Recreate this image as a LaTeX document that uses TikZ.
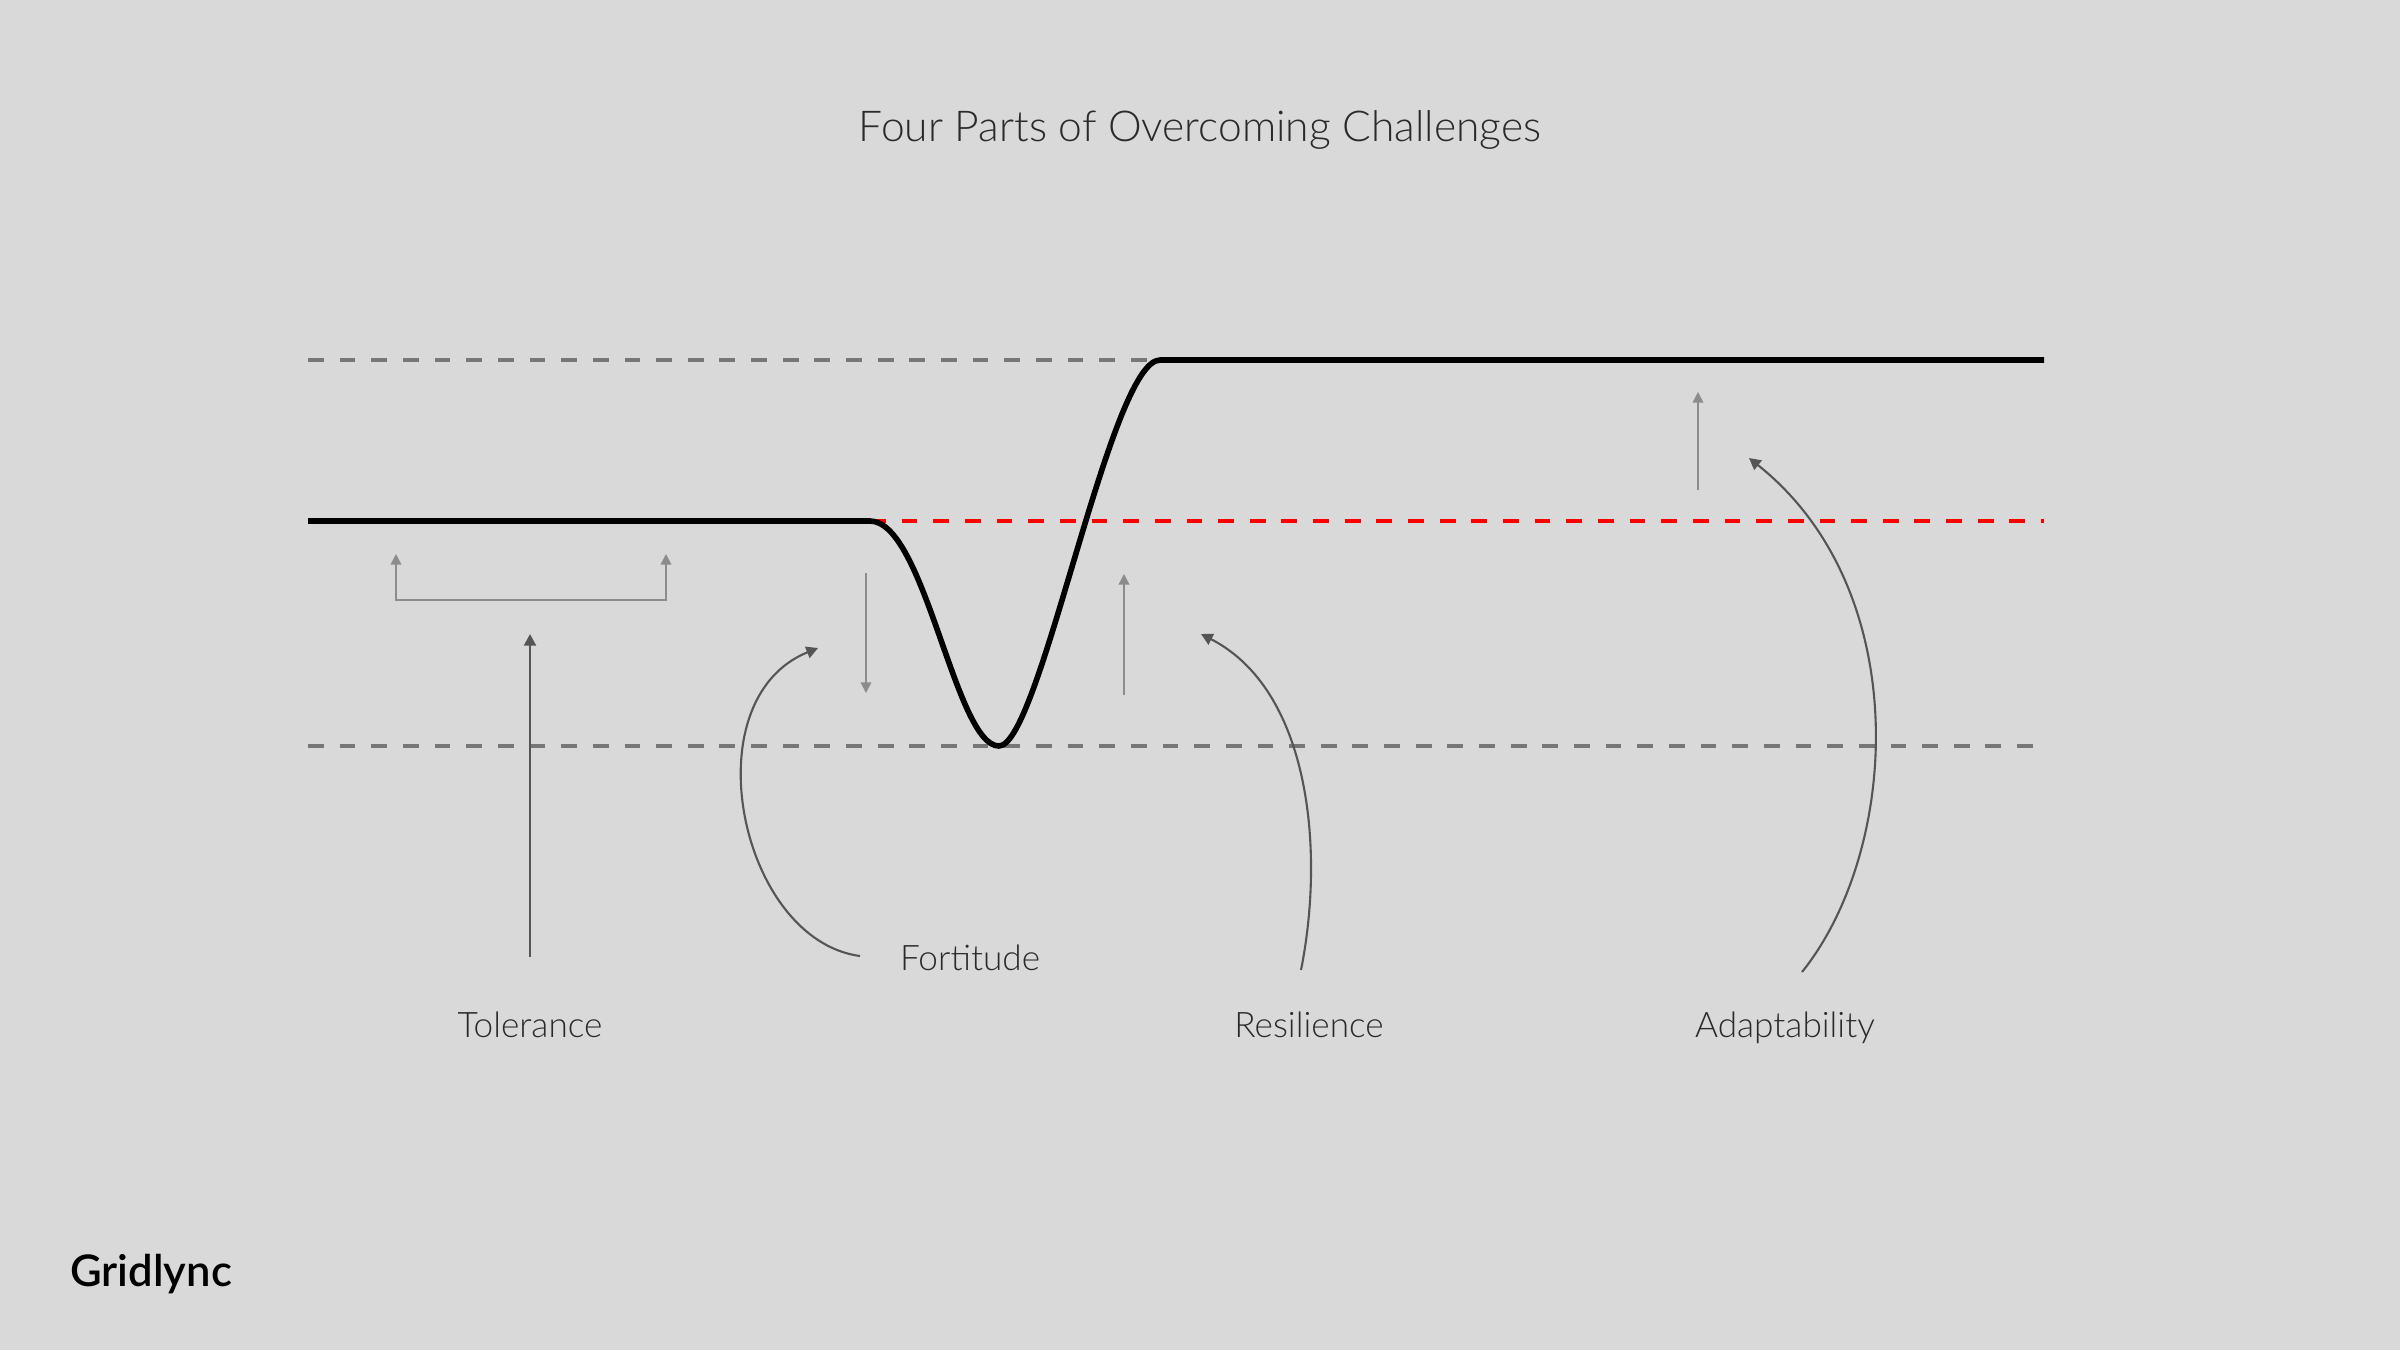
\documentclass[tikz,border=0pt]{standalone}
\usepackage{fontspec}
\setmainfont{Lato}
\newfontfamily\thinfont{Lato Light}
\newfontfamily\brandfont{Lato Semibold}
\usetikzlibrary{arrows.meta}
\definecolor{Canvas}{HTML}{D9D9D9}
\definecolor{Guide}{HTML}{777777}
\definecolor{Hint}{HTML}{8C8C8C}
\definecolor{Pointer}{HTML}{555555}
\definecolor{Base}{HTML}{FF0000}
\definecolor{Ink}{HTML}{2A2A2A}

\begin{document}
\begin{tikzpicture}[x=0.01cm, y=-0.01cm,
    level/.style={line width=1.15pt, dash pattern=on 4.5pt off 4.5pt},
    hint/.style={draw=Hint, line width=0.45pt},
    pointer/.style={draw=Pointer, line width=0.6pt, -{Triangle[length=3.3pt,width=3.4pt]}},
    partname/.style={font=\thinfont\fontsize{10}{12}\selectfont, text=Ink, anchor=base}]
  \fill[Canvas] (0,0) rectangle (2400,1350);

  \node[font=\thinfont\fontsize{12.1}{14}\selectfont, text=Ink] (title) at (1200,130) {Four Parts of Overcoming Challenges};

  \draw[level, Guide] (308,360) -- (1160,360);
  \draw[level, Guide] (308,746) -- (2044,746);
  \draw[level, Base] (870,521) -- (2044,521);
  \draw[line width=1.6pt, line join=round] (308,521) -- (870,521)
    .. controls (925,521) and (955,746) .. (999,746)
    .. controls (1040,746) and (1110,360) .. (1160,360) -- (2044,360);

  \node[partname] (tolerance) at (530,1037) {Tolerance};
  \node[partname] (fortitude) at (970,970) {Fortitude};
  \node[partname] (resilience) at (1309,1037) {Resilience};
  \node[partname] (adaptability) at (1785,1037) {Adaptability};
  \node[font=\brandfont\fontsize{12.4}{15}\selectfont, anchor=west] (brand) at (58,1274) {Gridlync};

  \coordinate (bracketL) at (396,554);
  \coordinate (bracketR) at (666,554);
  \draw[hint, {Triangle[length=3pt,width=3pt]}-{Triangle[length=3pt,width=3pt]}] (bracketL) -- ++(0,46) -| (bracketR);
  \coordinate (dropTop) at (866,573);
  \coordinate (dropEnd) at (866,693);
  \draw[hint, -{Triangle[length=3pt,width=3pt]}] (dropTop) -- (dropEnd);
  \coordinate (riseFoot) at (1124,695);
  \coordinate (riseEnd) at (1124,574);
  \draw[hint, -{Triangle[length=3pt,width=3pt]}] (riseFoot) -- (riseEnd);
  \coordinate (growFoot) at (1698,490);
  \coordinate (growEnd) at (1698,392);
  \draw[hint, -{Triangle[length=3pt,width=3pt]}] (growFoot) -- (growEnd);

  \coordinate (tolFoot) at (530,957);
  \coordinate (tolHead) at (530,634);
  \draw[pointer] (tolFoot) -- (tolHead);
  \coordinate (fortFoot) at (860,956);
  \coordinate (fortHead) at (818,648);
  \draw[pointer] (fortFoot) .. controls (740,940) and (690,700) .. (fortHead);
  \coordinate (resFoot) at (1301,970);
  \coordinate (resHead) at (1201,634);
  \draw[pointer] (resFoot) .. controls (1325,850) and (1310,690) .. (resHead);
  \coordinate (adaFoot) at (1802,972);
  \coordinate (adaHead) at (1749,458);
  \draw[pointer] (adaFoot) .. controls (1900,850) and (1915,590) .. (adaHead);
\end{tikzpicture}
\end{document}
